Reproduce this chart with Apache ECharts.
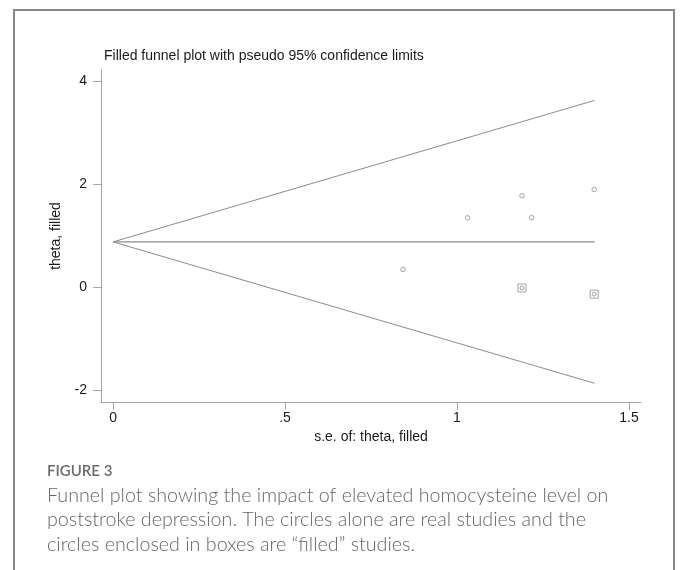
<!DOCTYPE html>
<html>
<head>
<meta charset="utf-8">
<script src="https://cdn.jsdelivr.net/npm/echarts@6/dist/echarts.min.js"></script>
<style>
  html, body { margin: 0; padding: 0; background: #fff; }
  #chart { width: 681px; height: 570px; }
</style>
</head>
<body>
<div id="chart"></div>
<script>
// ---- data ----
const realSE = [0.843, 1.031, 1.189, 1.217, 1.399];
const realTheta = [0.34, 1.34, 1.77, 1.345, 1.89];
const filledSE = [1.189, 1.399];
const filledTheta = [-0.02, -0.14];
const funnelSE = [0, 1.4];
const upperLimit = [0.874, 3.62];
const lowerLimit = [0.874, -1.87];
const pooledTheta = [0.874, 0.874];
const xTickValues = [0, 0.5, 1, 1.5];
const xTickLabels = ['0', '.5', '1', '1.5'];
const yTickValues = [-2, 0, 2, 4];
const yTickLabels = ['-2', '0', '2', '4'];

const titleText = 'Filled funnel plot with pseudo 95% confidence limits';
const xName = 's.e. of: theta, filled';
const yName = 'theta, filled';
const figLabel = 'FIGURE 3';
const captionLines = [
  'Funnel plot showing the impact of elevated homocysteine level on',
  'poststroke depression. The circles alone are real studies and the',
  'circles enclosed in boxes are \u201cfilled\u201d studies.'
];

const zip = (a, b) => a.map((v, i) => [v, b[i]]);
const axisFont = '"Liberation Sans", Arial, sans-serif';
const lineGray = '#8c8c8c';

const chart = echarts.init(document.getElementById('chart'), null, { renderer: 'canvas' });

const option = {
  backgroundColor: '#ffffff',
  animation: false,
  title: {
    text: titleText,
    left: 99,
    top: 44,
    textStyle: { fontFamily: axisFont, fontSize: 14, fontWeight: 'normal', color: '#1a1a1a' }
  },
  grid: { left: 101, right: 40, top: 70, bottom: 168, containLabel: false },
  xAxis: {
    type: 'value',
    min: -0.035,
    max: 1.535,
    name: xName,
    nameLocation: 'middle',
    nameGap: 28,
    nameTextStyle: { fontFamily: axisFont, fontSize: 14, color: '#1a1a1a' },
    axisLine: { show: true, onZero: false, lineStyle: { color: '#a6a6a6', width: 1 } },
    axisTick: { show: true, length: 8, customValues: xTickValues, lineStyle: { color: '#a6a6a6' } },
    axisLabel: {
      customValues: xTickValues,
      margin: 9,
      fontFamily: axisFont, fontSize: 14, color: '#1a1a1a',
      formatter: v => { const i = xTickValues.indexOf(v); return i >= 0 ? xTickLabels[i] : ''; }
    },
    splitLine: { show: false }
  },
  yAxis: {
    type: 'value',
    min: -2.233,
    max: 4.21,
    name: yName,
    nameLocation: 'middle',
    nameGap: 38,
    nameRotate: 90,
    nameTextStyle: { fontFamily: axisFont, fontSize: 14, color: '#1a1a1a' },
    axisLine: { show: true, onZero: false, lineStyle: { color: '#a6a6a6', width: 1 } },
    axisTick: { show: true, length: 8, customValues: yTickValues, lineStyle: { color: '#a6a6a6' } },
    axisLabel: {
      customValues: yTickValues,
      margin: 14,
      fontFamily: axisFont, fontSize: 14, color: '#1a1a1a',
      formatter: v => { const i = yTickValues.indexOf(v); return i >= 0 ? yTickLabels[i] : ''; }
    },
    splitLine: { show: false }
  },
  series: [
    {
      type: 'line', data: zip(funnelSE, upperLimit), symbol: 'none',
      lineStyle: { color: lineGray, width: 1 }, silent: true
    },
    {
      type: 'line', data: zip(funnelSE, lowerLimit), symbol: 'none',
      lineStyle: { color: lineGray, width: 1 }, silent: true
    },
    {
      type: 'line', data: zip(funnelSE, pooledTheta), symbol: 'none',
      lineStyle: { color: lineGray, width: 1.2 }, silent: true
    },
    {
      type: 'scatter', data: zip(realSE, realTheta), symbol: 'circle', symbolSize: 4.5,
      itemStyle: { color: '#ffffff', borderColor: '#8c8c8c', borderWidth: 1 }
    },
    {
      type: 'scatter', data: zip(filledSE, filledTheta), symbol: 'rect', symbolSize: 8,
      itemStyle: { color: '#ffffff', borderColor: '#8c8c8c', borderWidth: 1 }
    },
    {
      type: 'scatter', data: zip(filledSE, filledTheta), symbol: 'circle', symbolSize: 4,
      itemStyle: { color: '#ffffff', borderColor: '#8c8c8c', borderWidth: 1 }
    }
  ],
  graphic: [
    {
      type: 'rect', silent: true,
      shape: { x: 14, y: 10, width: 660, height: 580 },
      style: { fill: 'none', stroke: '#8a8a8a', lineWidth: 2 }
    },
    {
      type: 'text', left: 47, top: 464, silent: true,
      style: { text: figLabel, font: '600 15px Lato, "Open Sans", sans-serif', fill: '#6a6a6a' }
    },
    {
      type: 'text', left: 47, top: 483, silent: true,
      style: {
        text: captionLines.join('\n'),
        font: '300 19.7px Lato, "Open Sans", sans-serif',
        fill: '#666666',
        lineHeight: 24.5
      }
    }
  ]
};

chart.setOption(option);
</script>
</body>
</html>
